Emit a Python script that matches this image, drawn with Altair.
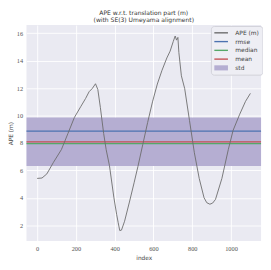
import altair as alt
import pandas as pd

# APE curve (index, value in m)
frame_idx = [0, 25, 50, 84, 125, 159, 192, 226, 250, 268, 284, 301, 313, 326, 343, 356, 373,
             396, 410, 418, 426, 435, 451, 476, 500, 520, 545, 570, 595, 620, 644, 669, 686,
             702, 712, 719, 726, 731, 744, 761, 786, 811, 836, 861, 875, 891, 905, 920, 953,
             986, 1011, 1045, 1075, 1100]
ape_values = [5.42, 5.45, 5.75, 6.59, 7.52, 8.70, 9.86, 10.68, 11.25, 11.74, 11.97, 12.32, 11.9,
              10.6, 8.7, 7.52, 6.35, 4.01, 2.8, 2.2, 1.62, 1.65, 2.3, 3.7, 5.1, 6.3, 7.9, 9.5,
              11.0, 12.3, 13.3, 14.2, 14.7, 15.4, 15.8, 15.5, 15.7, 14.6, 12.9, 11.97, 9.63,
              7.29, 5.42, 4.01, 3.65, 3.54, 3.62, 3.89, 5.42, 7.52, 8.93, 10.1, 11.04, 11.62]

stat_names = ["rmse", "median", "mean"]
stat_values = [8.86, 7.95, 8.09]
std_low = [6.33]
std_high = [9.86]

series = ["APE (m)", "rmse", "median", "mean", "std"]
series_colors = ["#6a6a6a", "#4c72b0", "#55a868", "#c44e52", "#b5aed2"]
line_shape = "M-2,-0.2H2V0.2H-2Z"
rect_shape = "M-2,-0.75H2V0.75H-2Z"
series_shapes = [line_shape, line_shape, line_shape, line_shape, rect_shape]

x_ticks = [0, 200, 400, 600, 800, 1000]
y_ticks = [2, 4, 6, 8, 10, 12, 14, 16]

df_line = pd.DataFrame({"index": frame_idx, "ape": ape_values, "series": "APE (m)"})
df_stats = pd.DataFrame({"value": stat_values, "series": stat_names})
df_std = pd.DataFrame({"lo": std_low, "hi": std_high, "series": ["std"]})
df_leg = pd.DataFrame({"series": series})

x_scale = alt.Scale(domain=[-55, 1155], nice=False, zero=False)
y_scale = alt.Scale(domain=[0.85, 16.6], nice=False, zero=False)

x_axis = alt.Axis(title="index", values=x_ticks, format="d", grid=True, ticks=False,
                  domain=False, labelPadding=5, titlePadding=2, labelOverlap=False)
y_axis = alt.Axis(title="APE (m)", values=y_ticks, format="d", grid=True, ticks=False,
                  domain=False, labelPadding=4, labelOverlap=False, titleX=-16, titleY=111,
                  titleAlign="center", titleBaseline="middle", titleAngle=270)

stroke_scale = alt.Scale(domain=series[:4], range=series_colors[:4])
fill_scale = alt.Scale(domain=series[4:], range=series_colors[4:])

band = alt.Chart(df_std).mark_rect().encode(
    y=alt.Y("lo:Q", scale=y_scale, axis=y_axis),
    y2="hi:Q",
    fill=alt.Fill("series:N", scale=fill_scale, legend=None),
)

rules = alt.Chart(df_stats).mark_rule(strokeWidth=1.3).encode(
    y=alt.Y("value:Q", scale=y_scale, axis=y_axis),
    stroke=alt.Stroke("series:N", scale=stroke_scale, legend=None),
)

line = alt.Chart(df_line).mark_line(strokeWidth=0.9).encode(
    x=alt.X("index:Q", scale=x_scale, axis=x_axis),
    y=alt.Y("ape:Q", scale=y_scale, axis=y_axis),
    stroke=alt.Stroke("series:N", scale=stroke_scale, legend=None),
)

leg = alt.Legend(title=None, orient="none", legendX=189.5, legendY=1, symbolSize=49,
                 symbolOffset=3.5, labelOffset=11, labelFont="DejaVu Sans", labelFontSize=6.1,
                 labelColor="#444444", fillColor="#eeeef4", strokeColor="#d2d2da",
                 cornerRadius=3, padding=3.5, rowPadding=2, symbolStrokeWidth=0)

legend_layer = alt.Chart(df_leg).mark_point(filled=True, opacity=1, size=49, clip=True).encode(
    x=alt.value(-200),
    y=alt.value(-200),
    color=alt.Color("series:N", scale=alt.Scale(domain=series, range=series_colors), legend=leg),
    shape=alt.Shape("series:N", scale=alt.Scale(domain=series, range=series_shapes), legend=leg),
)

chart = alt.layer(band, rules, line, legend_layer).properties(
    width=241, height=222,
    title=alt.Title(["APE w.r.t. translation part (m)", "(with SE(3) Umeyama alignment)"],
                    font="DejaVu Sans", fontSize=6.2, fontWeight="normal", color="#333333",
                    lineHeight=7, offset=1, dy=5, baseline="bottom", anchor="middle"),
    autosize=alt.AutoSizeParams(type="none"),
    padding={"left": 19, "top": 14, "right": 2, "bottom": 20},
).configure_view(
    stroke=None, fill="#eaeaf2"
).configure_axis(
    gridColor="#ffffff", gridWidth=0.9,
    labelFont="Liberation Serif", labelFontSize=6.5, labelColor="#555555",
    titleFont="DejaVu Sans", titleFontSize=6, titleColor="#444444", titleFontWeight="normal",
)

chart.save("out.html", embed_options={"renderer": "svg", "actions": False})
